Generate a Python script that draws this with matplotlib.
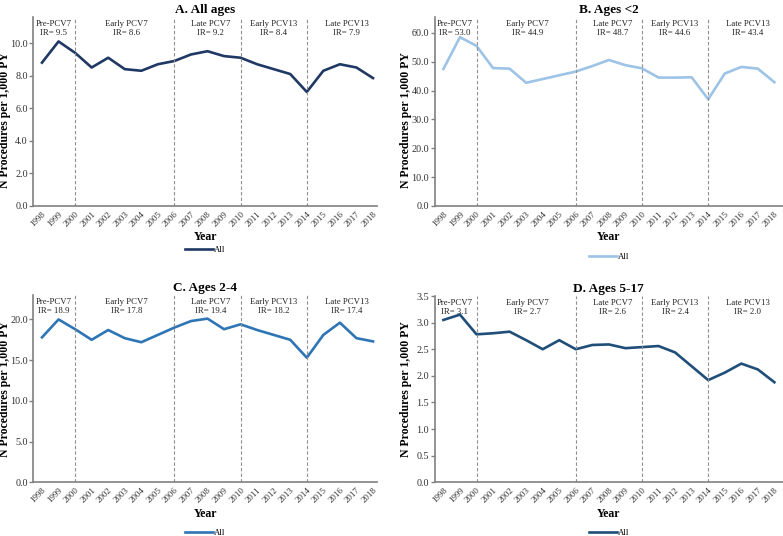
import matplotlib
matplotlib.use("Agg")
import matplotlib.pyplot as plt
import numpy as np

plt.rcParams['font.family'] = ['Liberation Serif', 'DejaVu Serif']

years = list(range(1998, 2019))
all_ages = [8.8, 10.1, 9.4, 8.5, 9.1, 8.4, 8.3, 8.7, 8.9, 9.3, 9.5, 9.2, 9.1, 8.7, 8.4, 8.1, 7.0, 8.3, 8.7, 8.5, 7.85]
ages_lt2 = [47.5, 58.5, 55.5, 47.8, 47.6, 42.7, 44.0, 45.3, 46.6, 48.5, 50.6, 48.8, 47.7, 44.5, 44.5, 44.6, 37.0, 45.9, 48.2, 47.6, 42.9]
ages_2_4 = [17.8, 20.0, 18.8, 17.5, 18.7, 17.7, 17.2, 18.1, 19.0, 19.8, 20.1, 18.8, 19.4, 18.7, 18.1, 17.5, 15.3, 18.1, 19.6, 17.7, 17.3]
ages_5_17 = [3.05, 3.15, 2.78, 2.80, 2.83, 2.67, 2.50, 2.67, 2.50, 2.58, 2.59, 2.52, 2.54, 2.56, 2.44, 2.18, 1.92, 2.06, 2.23, 2.12, 1.88]

period_names = ["Pre-PCV7", "Early PCV7", "Late PCV7", "Early PCV13", "Late PCV13"]
period_centers = [1998.7, 2003.1, 2008.2, 2012.0, 2016.4]
period_breaks = [2000, 2006, 2010, 2014]
ir_a = [9.5, 8.6, 9.2, 8.4, 7.9]
ir_b = [53.0, 44.9, 48.7, 44.6, 43.4]
ir_c = [18.9, 17.8, 19.4, 18.2, 17.4]
ir_d = [3.1, 2.7, 2.6, 2.4, 2.0]

panels = [
    dict(title="A. All ages", data=all_ages, ir=ir_a, color="#203864", ylim=11.6,
         yticks=np.arange(0, 10.01, 2.0), pos=[33.3, 377, 17, 206], leg=-0.233, lab_y=0.455),
    dict(title="B. Ages <2", data=ages_lt2, ir=ir_b, color="#9DC3E6", ylim=65.5,
         yticks=np.arange(0, 60.01, 10.0), pos=[434.7, 783, 17, 206], leg=-0.27, lab_y=0.455),
    dict(title="C. Ages 2-4", data=ages_2_4, ir=ir_c, color="#2E75B6", ylim=23.0,
         yticks=np.arange(0, 20.01, 5.0), pos=[33.3, 377, 295, 482.3], leg=-0.27, lab_y=0.5),
    dict(title="D. Ages 5-17", data=ages_5_17, ir=ir_d, color="#1F4E79", ylim=3.5,
         yticks=np.arange(0, 3.51, 0.5), pos=[434.7, 783, 296, 482.3], leg=-0.27, lab_y=0.5),
]

W, H = 783, 536
fig = plt.figure(figsize=(W / 100, H / 100), dpi=100)

for p in panels:
    l, r, t, b = p["pos"]
    ax = fig.add_axes([l / W, 1 - b / H, (r - l) / W, (b - t) / H])
    ax.plot(years, p["data"], color=p["color"], lw=1.9, label="All", solid_joinstyle='round')
    x0 = 1998 - 8.7 / 16.55
    x1 = x0 + (r - l) / 16.55
    ax.set_xlim(x0, x1)
    ax.set_ylim(0, p["ylim"])
    ax.set_xticks(years)
    ax.set_xticklabels([str(y) for y in years], rotation=45, fontsize=6.5, ha='right',
                       rotation_mode='anchor', color='#333333')
    ax.set_yticks(p["yticks"])
    ax.set_yticklabels(["{:.1f}".format(v) for v in p["yticks"]], fontsize=7.3, color='#333333')
    ax.tick_params(axis='y', length=3, width=1, color='#808080', pad=1)
    ax.tick_params(axis='x', length=0, pad=3)
    for s in ["top", "right"]:
        ax.spines[s].set_visible(False)
    for s in ["left", "bottom"]:
        ax.spines[s].set_color("#808080")
        ax.spines[s].set_linewidth(1.2)
    for xb in period_breaks:
        ax.axvline(xb, color="#909090", lw=0.8, ls=(0, (3, 2)))
    for name, xc, ir in zip(period_names, period_centers, p["ir"]):
        ax.text(xc, 0.985, name, transform=ax.get_xaxis_transform(), ha='center', va='top',
                fontsize=6.3, color='#222222')
        ax.text(xc, 0.935, "IR= {:.1f}".format(ir), transform=ax.get_xaxis_transform(),
                ha='center', va='top', fontsize=6.3, color='#222222')
    ax.set_title(p["title"], fontsize=9.5, fontweight='bold', pad=3)
    ax.set_xlabel("Year", fontsize=8.5, fontweight='bold', labelpad=2)
    ax.set_ylabel("N Procedures per 1,000 PY", fontsize=8.5, fontweight='bold', va='center')
    ax.yaxis.set_label_coords(-28.3 / (r - l), p["lab_y"])
    ax.legend(loc='center', bbox_to_anchor=(0.5, p["leg"]), frameon=False, fontsize=6.3,
              handlelength=3.2, handletextpad=0.1)

fig.savefig("out.png", dpi=100)
